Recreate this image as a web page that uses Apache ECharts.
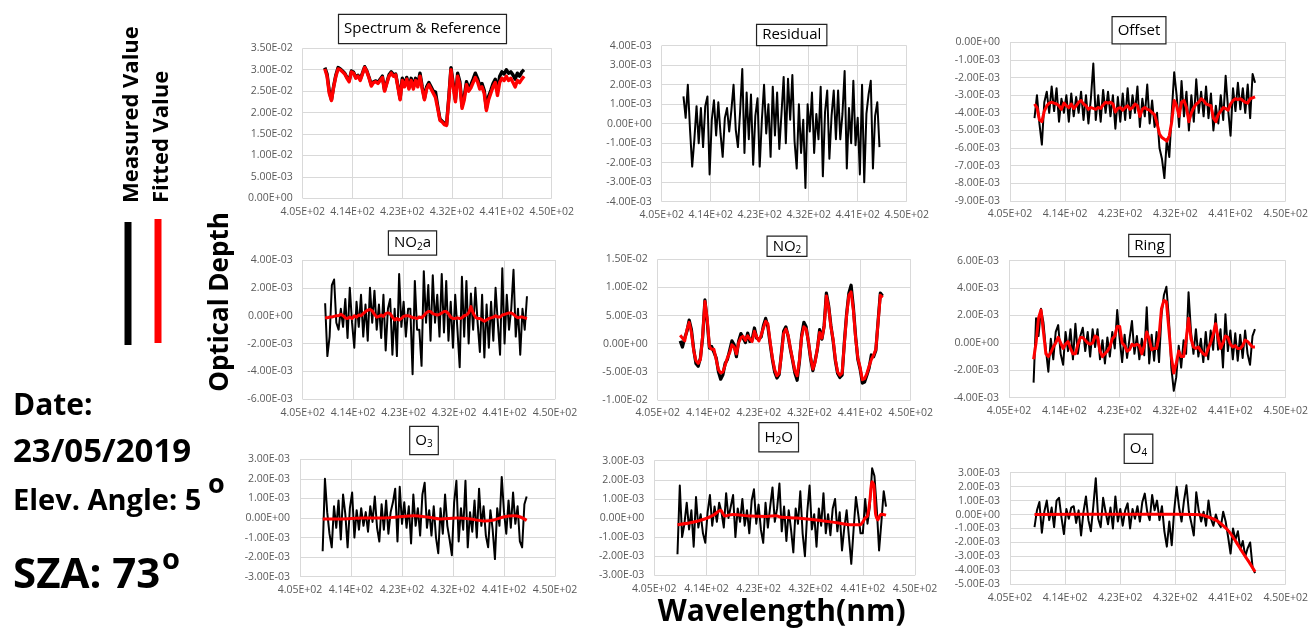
<!DOCTYPE html>
<html><head><meta charset="utf-8">
<script src="https://cdn.jsdelivr.net/npm/echarts@6/dist/echarts.min.js"></script>
<style>html,body{margin:0;padding:0;background:#fff}#c{width:1311px;height:630px}</style>
</head><body><div id="c"></div>
<script>
// ---------- DATA ----------
// Wavelength grid (nm) of the measured spectra
const wavelength = [
409.0,409.4,409.8,410.2,410.6,411.0,411.4,411.8,412.2,412.6,
413.0,413.4,413.8,414.2,414.6,415.0,415.4,415.8,416.2,416.6,
417.0,417.4,417.8,418.2,418.6,419.0,419.4,419.8,420.2,420.6,
421.0,421.4,421.8,422.2,422.6,423.0,423.4,423.8,424.2,424.6,
425.0,425.4,425.8,426.2,426.6,427.0,427.4,427.8,428.2,428.6,
429.0,429.4,429.8,430.2,430.6,431.0,431.4,431.8,432.2,432.6,
433.0,433.4,433.8,434.2,434.6,435.0,435.4,435.8,436.2,436.6,
437.0,437.4,437.8,438.2,438.6,439.0,439.4,439.8,440.2,440.6,
441.0,441.4,441.8,442.2,442.6,443.0,443.4,443.8,444.2,444.6,
445.0];
const xTicks = [405, 450, 9];            // min, max, step of wavelength axis

// Spectrum & Reference (x1e-2)
const spectrumMeasured = [
3.05,2.9,2.5,2.3,2.62,2.88,3.05,3.02,2.97,2.92,
2.82,2.75,2.97,2.94,2.82,2.87,2.78,2.92,3.07,2.97,
2.82,2.65,2.72,2.74,2.7,2.78,2.85,2.52,2.7,2.88,
2.95,2.88,2.9,2.63,2.33,2.8,2.65,2.82,2.58,2.8,
2.6,2.8,2.65,2.92,2.6,2.33,2.6,2.7,2.6,2.5,
2.48,2.15,1.85,1.8,1.75,1.72,2.35,3.05,2.68,2.3,
2.92,2.72,2.15,2.38,2.72,2.58,2.65,2.78,2.92,2.8,
2.62,2.68,2.52,2.1,2.38,2.52,2.68,2.78,2.5,2.85,
2.95,2.9,3.0,2.92,2.95,2.88,2.78,2.92,2.85,2.95,
3.0];
const spectrumFitted = [
3.02,2.85,2.45,2.28,2.6,2.85,3.02,3.0,2.95,2.9,
2.8,2.72,2.95,2.92,2.8,2.85,2.75,2.9,3.05,2.95,
2.8,2.62,2.7,2.72,2.68,2.75,2.82,2.5,2.68,2.85,
2.92,2.85,2.88,2.6,2.3,2.75,2.6,2.78,2.55,2.75,
2.55,2.75,2.6,2.85,2.55,2.3,2.55,2.65,2.55,2.45,
2.35,2.1,1.82,1.78,1.72,1.7,2.3,3.0,2.6,2.25,
2.85,2.65,2.1,2.3,2.65,2.5,2.58,2.7,2.82,2.72,
2.55,2.6,2.45,2.05,2.3,2.45,2.6,2.7,2.4,2.7,
2.8,2.75,2.85,2.75,2.8,2.7,2.6,2.75,2.7,2.78,
2.85];

// Residual (x1e-3)
const residual = [
1.4,0.3,2.0,-0.3,-2.2,-0.8,0.9,-1.0,0.8,-1.2,
0.9,1.4,-2.6,0.2,1.2,-0.6,1.1,-0.5,-1.7,0.3,
0.8,-0.4,0.7,2.0,-0.3,-1.2,0.6,2.8,-1.5,1.6,
-0.8,1.5,-2.1,0.4,1.3,-2.2,0.2,2.0,-0.5,1.0,
-1.7,1.9,-0.6,1.6,-1.3,0.5,2.4,-1.0,2.3,0.2,
2.5,-0.9,-2.3,1.0,-1.5,0.2,-3.3,1.0,-0.4,1.6,
-1.5,0.5,-0.8,1.9,-2.7,0.6,1.7,-1.8,0.4,1.7,
-0.8,1.7,-0.8,0.5,2.7,-2.3,0.8,-1.0,2.2,-1.1,
0.3,-2.6,2.0,-3.0,0.5,1.5,2.2,-2.3,0.4,1.1,
-1.2];

// Offset (x1e-3)
const offsetMeasured = [
-4.3,-3.0,-4.6,-5.8,-3.4,-2.8,-4.0,-2.5,-3.9,-2.6,
-4.5,-3.2,-4.0,-3.0,-4.5,-2.9,-4.2,-3.1,-4.0,-2.8,
-4.4,-3.0,-4.6,-3.2,-1.2,-4.4,-3.0,-4.5,-2.7,-4.0,
-2.8,-4.2,-3.0,-4.9,-3.1,-4.5,-2.9,-4.4,-2.6,-4.3,
-3.0,-4.0,-2.5,-4.8,-3.2,-4.2,-2.4,-4.6,-3.3,-4.8,
-4.0,-6.0,-6.6,-7.7,-5.5,-6.5,-4.0,-1.7,-3.0,-4.8,
-2.2,-4.2,-2.8,-5.0,-3.0,-4.5,-2.1,-4.0,-2.8,-4.2,
-2.5,-4.3,-2.9,-5.0,-3.6,-4.6,-3.0,-4.4,-1.9,-3.8,
-5.3,-2.6,-3.9,-2.3,-3.8,-2.6,-4.0,-2.4,-4.3,-1.8,
-2.3];
const offsetFitted = [
-3.5,-3.7,-4.4,-4.5,-3.9,-3.6,-3.45,-3.4,-3.45,-3.5,
-3.6,-3.8,-3.45,-3.6,-3.7,-3.5,-3.75,-3.6,-3.4,-3.3,
-3.5,-3.6,-3.8,-3.7,-3.75,-3.8,-3.7,-3.75,-3.55,-3.4,
-3.45,-3.4,-3.5,-3.95,-3.75,-3.7,-3.85,-3.7,-3.6,-3.8,
-3.7,-3.5,-3.6,-4.2,-3.8,-3.7,-3.8,-3.85,-4.0,-4.1,
-4.6,-5.2,-5.4,-5.5,-5.6,-5.3,-4.5,-3.3,-3.6,-4.2,
-3.4,-3.3,-3.7,-4.5,-4.0,-3.7,-3.5,-3.4,-3.2,-3.3,
-3.5,-3.55,-3.6,-4.3,-4.5,-4.1,-3.9,-3.7,-3.75,-3.85,
-3.5,-3.3,-3.2,-3.25,-3.2,-3.3,-3.4,-3.45,-3.2,-3.15,
-3.1];

// NO2a (x1e-3)
const no2aMeasured = [
0.9,-2.9,-1.5,2.2,2.6,-0.5,-1.0,0.5,-0.8,1.2,
-1.6,2.0,-0.5,-2.3,1.0,-0.8,1.5,-1.5,0.8,-1.8,
2.0,-0.5,1.8,-1.0,0.8,-1.6,1.5,-2.5,0.5,1.2,
-2.8,0.5,-2.9,3.0,-0.8,1.0,-1.5,0.5,0.5,-4.2,
2.5,-1.0,-1.0,-3.6,3.2,-0.5,2.2,-1.8,2.9,-0.5,
1.5,-1.5,3.0,-1.2,2.5,-1.8,1.0,-2.3,1.5,-1.0,
-3.7,2.8,-1.5,2.5,-2.0,1.6,-1.0,2.0,-0.5,-2.6,
1.5,-3.0,0.8,-2.3,1.0,-1.8,2.0,-0.5,-2.8,3.4,
-2.0,1.5,-1.0,0.5,3.3,-1.5,0.5,-2.8,0.5,-1.0,
1.4];
const no2aFitted = [
-0.15,-0.15,-0.1,-0.1,-0.05,0.0,0.0,0.1,0.0,-0.15,
-0.2,-0.1,-0.2,0.0,-0.1,0.05,0.0,0.15,0.3,0.4,
0.45,0.35,0.1,-0.1,-0.05,0.05,-0.05,0.15,0.2,0.15,
-0.1,-0.3,-0.2,-0.3,-0.2,-0.05,0.0,0.0,-0.05,-0.15,
-0.15,-0.2,-0.1,-0.15,0.0,0.2,0.3,0.3,0.15,0.1,
0.05,0.1,0.2,0.3,0.3,0.15,-0.1,-0.2,-0.2,-0.15,
-0.2,-0.15,0.0,0.05,0.2,0.65,0.2,-0.1,-0.2,-0.2,
-0.3,-0.4,-0.3,-0.2,-0.15,-0.1,0.0,-0.1,-0.1,0.05,
0.1,0.15,0.2,0.2,0.1,-0.05,-0.15,-0.1,-0.1,-0.15,
-0.2];

// NO2 (x1e-3)
const no2Measured = [
0.5,-0.6,1.0,2.2,4.2,2.5,-1.0,-3.5,-4.0,-2.5,
1.2,7.8,4.0,-0.8,-0.5,-1.5,-2.5,-5.0,-6.3,-5.5,
-3.5,-2.8,-1.2,0.5,-0.2,-2.3,0.5,1.8,1.0,0.2,
1.9,0.4,0.8,2.8,1.0,0.8,1.2,3.2,4.5,3.0,
0.0,-2.8,-5.0,-6.1,-5.5,-1.7,2.2,3.0,1.3,-1.0,
-3.0,-5.2,-6.5,-3.3,1.5,3.8,3.0,0.3,-2.7,-4.8,
-3.0,-1.0,2.5,0.8,3.2,9.0,6.8,3.3,0.5,-3.0,
-5.3,-6.0,-5.6,0.3,5.3,9.0,10.4,6.5,1.3,-2.8,
-4.5,-7.0,-6.8,-5.6,-4.3,-2.0,-2.3,-1.2,4.0,9.0,
8.5];
const no2Fitted = [
1.5,1.0,0.5,2.5,3.8,2.0,-1.2,-3.0,-3.5,-2.8,
1.5,7.5,4.5,-0.5,-1.0,-1.0,-2.8,-4.6,-5.2,-5.0,
-3.8,-2.5,-1.6,-0.2,-0.6,-1.8,0.2,1.1,1.3,0.6,
1.4,0.8,0.4,2.2,1.2,0.5,1.5,2.8,4.0,3.5,
0.3,-2.5,-4.6,-5.7,-5.2,-2.0,1.8,2.6,1.5,-0.8,
-2.8,-4.8,-5.7,-3.0,1.2,3.0,2.6,0.5,-2.4,-4.5,
-3.3,-0.8,2.0,1.0,3.0,8.5,6.5,3.0,0.8,-2.8,
-5.0,-5.6,-5.2,0.0,5.0,8.6,9.2,6.0,1.0,-2.5,
-4.2,-6.4,-6.2,-5.3,-4.0,-2.8,-2.0,-1.0,3.8,8.6,
8.2];

// Ring (x1e-3)
const ringMeasured = [
-2.9,1.8,0.5,2.5,1.5,-0.5,-2.1,0.3,-1.2,0.8,
1.3,-0.8,-1.6,0.8,-0.6,1.0,-1.2,1.4,-0.8,0.5,
1.1,-0.6,0.8,-1.0,1.0,-0.3,1.0,-1.2,0.2,-1.5,
0.4,-1.0,0.8,-0.4,2.4,0.3,-1.4,0.6,-1.1,0.3,
1.6,-0.8,0.5,-1.2,0.3,-0.9,2.6,-1.5,0.6,-1.3,
0.8,-1.4,2.0,3.5,4.1,1.8,-1.8,-3.5,-2.5,-0.2,
-1.8,0.2,-0.8,3.7,0.8,-0.8,1.0,-1.0,0.3,-1.4,
0.8,-1.2,0.9,-0.5,2.1,-0.5,1.0,-1.8,2.1,-0.6,
0.9,-1.2,0.7,-1.3,0.6,-1.1,0.9,-0.8,-1.6,0.5,
1.0];
const ringFitted = [
-1.2,0.0,1.8,2.4,0.8,-0.8,-1.0,-0.7,-0.3,0.0,
0.4,0.0,-0.4,-0.1,0.1,-0.4,-0.8,-0.8,-0.1,0.4,
0.4,0.2,0.0,-0.1,0.0,0.5,0.4,-0.6,-1.0,-0.8,
-0.6,-0.3,0.3,0.5,1.2,1.2,0.0,-0.2,-0.6,-0.5,
-0.1,-0.2,-0.1,-0.2,-0.8,-0.2,0.8,0.3,-0.5,-0.4,
-0.4,0.5,2.5,3.1,3.0,1.0,-1.0,-2.2,-1.5,-0.6,
-1.0,-1.0,0.2,1.8,0.3,-0.3,-0.4,-0.3,-0.6,-0.8,
-0.9,-0.4,0.0,0.6,1.4,0.4,-0.4,0.0,0.5,0.4,
-0.1,-0.3,-0.2,-0.4,-0.4,-0.2,0.2,0.1,-0.1,-0.3,
-0.3];

// O3 (x1e-3)
const o3Measured = [
-1.7,2.0,0.3,-0.8,-1.5,0.6,-0.5,0.9,-1.1,1.2,
0.2,-1.5,0.5,1.3,-1.0,0.4,-0.6,0.5,-0.4,0.3,
-0.7,0.6,-0.2,1.1,-0.5,-1.2,0.7,-0.6,0.9,-0.8,
0.3,0.8,1.5,-1.2,1.6,-0.3,0.8,-0.5,0.6,-1.3,
1.2,-0.4,0.5,-0.9,1.2,1.8,-0.5,0.4,-0.9,0.6,
-1.0,-1.8,0.5,-0.8,1.2,-0.4,-1.1,-1.9,0.8,1.9,
-1.2,0.5,-0.6,1.9,-1.5,0.3,-0.7,0.9,-1.0,1.5,
-0.4,0.6,-0.9,-1.5,0.4,-0.6,-2.1,0.5,-0.4,2.1,
0.3,-0.8,0.9,-0.5,1.3,-0.3,0.6,-1.2,-1.5,0.7,
1.1];
const o3FitWavelength = [409.0,412.1,416.2,419.8,422.1,425.1,427.4,429.8,432.7,435.1,437.4,439.2,440.9,442.7,443.9,445.0];
const o3Fitted = [-0.05,-0.05,0.0,0.0,0.05,0.12,0.05,-0.05,0.0,-0.05,-0.15,-0.1,0.05,0.12,0.05,-0.12];

// H2O (x1e-3)
const h2oMeasured = [
-1.9,1.7,-1.0,-0.3,0.8,-0.6,0.4,-1.5,1.1,-0.5,
0.2,-0.8,-1.3,0.3,1.2,-0.4,0.6,-0.2,0.8,0.3,
-0.5,1.3,0.0,0.6,1.2,-1.0,0.5,-0.2,1.0,-0.4,
0.4,-0.8,0.9,1.5,-0.3,0.7,-0.6,-1.3,0.8,-0.5,
0.6,1.6,-0.2,0.5,1.8,-0.7,0.6,-1.2,0.4,-0.6,
-1.8,0.5,-0.3,1.4,-0.8,-2.0,0.3,1.7,-0.6,0.2,
-1.5,0.5,-0.4,1.3,-0.8,0.2,-0.9,0.5,1.0,-0.7,
0.3,-1.7,-0.5,0.4,-1.0,-2.4,-0.6,1.1,0.2,-0.8,
-0.8,1.0,-0.3,0.6,2.6,2.2,0.5,-1.7,-0.2,1.4,
0.6];
const h2oFitWavelength = [409.0,411.2,413.7,415.2,416.1,416.5,416.8,417.2,417.8,418.6,421.5,424.4,426.1,426.7,429.6,433.0,436.5,438.8,440.5,441.0,441.4,441.8,442.2,442.6,442.9,443.2,443.6,443.9,444.2,445.0];
const h2oFitted = [-0.35,-0.25,-0.05,0.15,0.35,0.4,0.25,0.1,0.15,0.18,0.1,0.08,0.12,0.05,0.0,-0.1,-0.25,-0.35,-0.35,-0.2,0.0,0.1,0.9,1.9,1.7,0.2,-0.1,0.1,0.2,0.15];

// O4 (x1e-3)
const o4Measured = [
-0.9,0.3,0.9,-1.3,0.2,1.0,-0.4,0.5,-0.9,1.0,
1.2,-0.2,-1.4,0.4,-0.3,0.5,0.6,-0.6,0.3,-1.5,
0.2,1.3,-0.4,-1.2,0.6,2.6,-0.3,-0.9,1.2,0.2,
-0.7,0.5,-1.0,1.3,-0.5,0.4,-0.8,0.3,0.8,-1.0,
0.4,-0.3,0.6,-0.5,0.9,1.5,0.2,-0.4,1.4,0.3,
1.0,-0.4,0.6,-1.2,-2.3,-0.5,-2.2,0.3,2.0,0.5,
-0.5,1.0,2.1,0.2,-0.6,-1.5,1.6,0.3,-0.5,0.2,
-0.8,1.0,-0.3,-0.8,0.0,-0.6,-0.9,0.2,-0.5,-1.6,
-2.8,-1.0,-1.8,-1.2,-2.5,-1.9,-3.0,-2.4,-2.0,-3.8,
-4.2];
const o4FitWavelength = [409.0,420.0,430.0,435.0,436.0,437.0,438.6,439.7,440.8,441.9,442.9,444.0,445.0];
const o4Fitted = [0.0,0.02,0.02,0.0,-0.02,-0.12,-0.4,-0.76,-1.24,-1.96,-2.67,-3.39,-4.1];

// y-axis ranges [min, max, step] (scaled units) and scale factor
const yRanges = [[0,3.5,0.5],[-4,4,1],[-9,0,1],[-6,4,2],[-10,15,5],[-4,6,2],[-3,3,1],[-3,3,1],[-5,3,1]];
const yScales = [1e-2,1e-3,1e-3,1e-3,1e-3,1e-3,1e-3,1e-3,1e-3];
const panelTitles = ['Spectrum & Reference','Residual','Offset','NO{s|2}a','NO{s|2}','Ring','O{s|3}','H{s|2}O','O{s|4}'];

// ---------- LAYOUT ----------
const gridBoxes = [
  [302.7,48.3,249,150],[661.7,45.7,245,156],[1010,42.3,276.7,158.7],
  [302.7,260,252.3,139.3],[657.7,259.3,253,140.7],[1009,260.7,280.3,137],
  [300,459.3,255,117.4],[654.3,460.7,260.7,114.6],[1010,472.7,276.7,111.6]
];
const titleBoxes = [ // center x, center y, vertical padding
  [422.5,29,5],[791.7,35,1],[1139,30.3,4],
  [412.5,243,2.5],[787,246.3,0.5],[1149.5,245.5,1.5],
  [424,440.5,4.5],[778.7,437.3,5],[1138.5,448.8,5]
];
const measuredWidths = [3.4,2.0,2.0,2.0,3.2,2.0,2.0,2.0,2.0];
const fittedWidths = [3.4,0,3,3,3,3,3,3,3];
const panelSeries = [
  {m:spectrumMeasured, f:spectrumFitted, fx:wavelength},
  {m:residual, f:null},
  {m:offsetMeasured, f:offsetFitted, fx:wavelength},
  {m:no2aMeasured, f:no2aFitted, fx:wavelength},
  {m:no2Measured, f:no2Fitted, fx:wavelength},
  {m:ringMeasured, f:ringFitted, fx:wavelength},
  {m:o3Measured, f:o3Fitted, fx:o3FitWavelength},
  {m:h2oMeasured, f:h2oFitted, fx:h2oFitWavelength},
  {m:o4Measured, f:o4Fitted, fx:o4FitWavelength}
];

function fmtE(v){
  if (Math.abs(v) < 1e-15) return '0.00E+00';
  const p = v.toExponential(2).split('e');
  const ex = parseInt(p[1],10), a = Math.abs(ex);
  return p[0] + 'E' + (ex < 0 ? '-' : '+') + (a < 10 ? '0' + a : '' + a);
}
const zip = (xs, ys) => ys.map((y, i) => [xs[i], y]);

const FONT = 'Open Sans';
const grid = [], xAxis = [], yAxis = [], series = [], graphic = [];
gridBoxes.forEach((b, i) => {
  grid.push({left:b[0], top:b[1], width:b[2], height:b[3], containLabel:false});
  xAxis.push({type:'value', gridIndex:i, min:xTicks[0], max:xTicks[1], interval:xTicks[2],
    axisLine:{show:false}, axisTick:{show:false},
    splitLine:{show:true, lineStyle:{color:'#d9d9d9', width:1}},
    axisLabel:{formatter:fmtE, fontFamily:FONT, fontSize:10.5, color:'#595959', margin:8, showMinLabel:true, showMaxLabel:true}});
  const r = yRanges[i], sc = yScales[i];
  yAxis.push({type:'value', gridIndex:i, min:r[0], max:r[1], interval:r[2],
    axisLine:{show:false}, axisTick:{show:false},
    splitLine:{show:true, lineStyle:{color:'#d9d9d9', width:1}},
    axisLabel:{formatter:v => fmtE(v*sc), fontFamily:FONT, fontSize:10.5, color:'#595959', margin:10, showMinLabel:true, showMaxLabel:true}});
  const ps = panelSeries[i];
  series.push({type:'line', name:'Measured Value', xAxisIndex:i, yAxisIndex:i, data:zip(wavelength, ps.m),
    symbol:'none', lineStyle:{color:'#000', width:measuredWidths[i], join:'round'}, z:2, silent:true});
  if (ps.f) series.push({type:'line', name:'Fitted Value', xAxisIndex:i, yAxisIndex:i, data:zip(ps.fx, ps.f),
    symbol:'none', smooth: ps.fx === wavelength ? false : 0.3, lineStyle:{color:'#ff0000', width:fittedWidths[i], join:'round'}, z:3, silent:true});
  const t = titleBoxes[i];
  graphic.push({type:'text', x:t[0], y:t[1], z:10, style:{text:panelTitles[i], fontFamily:FONT, fontSize:15, fill:'#000',
    align:'center', verticalAlign:'middle', lineHeight:18, padding:[t[2],5,t[2],5],
    backgroundColor:'#fff', borderColor:'#222', borderWidth:1.2,
    rich:{s:{fontSize:10, fontFamily:FONT, fill:'#000', verticalAlign:'bottom', lineHeight:14}}}});
});

// Left panel texts & legend
const bold = (size) => ({fontFamily:FONT, fontWeight:'bold', fontSize:size, fill:'#000'});
graphic.push(
  {type:'text', x:131.5, y:203, rotation:Math.PI/2, style:Object.assign({text:'Measured Value', align:'left', verticalAlign:'middle'}, bold(22))},
  {type:'text', x:161.5, y:203, rotation:Math.PI/2, style:Object.assign({text:'Fitted Value', align:'left', verticalAlign:'middle'}, bold(22))},
  {type:'line', shape:{x1:128,y1:222,x2:128,y2:345}, style:{stroke:'#000', lineWidth:7}},
  {type:'line', shape:{x1:158,y1:219,x2:158,y2:343}, style:{stroke:'#ff0000', lineWidth:7}},
  {type:'text', x:221, y:302, rotation:Math.PI/2, style:Object.assign({text:'Optical Depth', align:'center', verticalAlign:'middle'}, bold(26))},
  {type:'text', x:13, y:406, style:Object.assign({text:'Date:', align:'left', verticalAlign:'middle'}, bold(30))},
  {type:'text', x:13, y:452.5, style:Object.assign({text:'23/05/2019', align:'left', verticalAlign:'middle'}, bold(33))},
  {type:'text', x:13, y:502, style:Object.assign({text:'Elev. Angle: 5', align:'left', verticalAlign:'middle'}, bold(29))},
  {type:'text', x:208, y:485, style:Object.assign({text:'o', align:'left', verticalAlign:'middle'}, bold(27))},
  {type:'text', x:13, y:576.5, style:Object.assign({text:'SZA: 73', align:'left', verticalAlign:'middle'}, bold(42))},
  {type:'text', x:162, y:561, style:Object.assign({text:'o', align:'left', verticalAlign:'middle'}, bold(29))},
  {type:'text', x:781.7, y:612, style:Object.assign({text:'Wavelength(nm)', align:'center', verticalAlign:'middle'}, bold(30))}
);

const chart = echarts.init(document.getElementById('c'), null, {renderer:'canvas'});
chart.setOption({animation:false, backgroundColor:'#fff', grid, xAxis, yAxis, series, graphic});
</script></body></html>
